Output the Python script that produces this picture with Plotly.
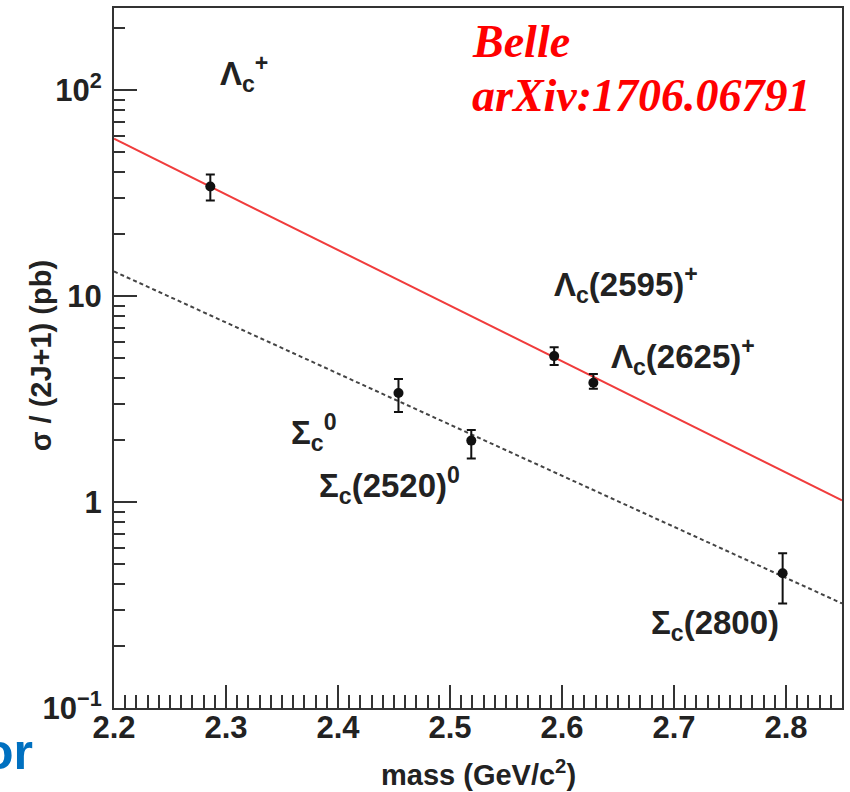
import numpy as np
import plotly.graph_objects as go

# Measured cross sections sigma/(2J+1) in pb, with asymmetric errors
lambda_mass = [2.286, 2.593, 2.628]
lambda_xs = [34.1, 5.12, 3.80]
lambda_err_up = [4.9, 0.54, 0.39]
lambda_err_dn = [4.9, 0.49, 0.25]

sigma_mass = [2.454, 2.519, 2.797]
sigma_xs = [3.39, 1.99, 0.451]
sigma_err_up = [0.57, 0.25, 0.113]
sigma_err_dn = [0.65, 0.36, 0.129]

# Exponential fits (straight lines on the log scale)
fit_mass = [2.2, 2.85]
lambda_fit = [58.2, 1.02]
sigma_fit = [13.2, 0.322]

# Axis ticks
x_ticks = [2.2, 2.3, 2.4, 2.5, 2.6, 2.7, 2.8]
x_ticktext = ["2.2", "2.3", "2.4", "2.5", "2.6", "2.7", "2.8"]
y_ticks = [0.1, 1, 10, 100]
y_ticktext = ["10<sup>−1</sup>", "1", "10", "10<sup>2</sup>"]
y_minor = [m * 10.0 ** e for e in (-1, 0, 1, 2) for m in range(2, 10)]

axis_col = "#333333"
txt_col = "#222222"
font_main = "Liberation Sans, Arial, sans-serif"

fig = go.Figure()

fig.add_trace(go.Scatter(
    x=fit_mass, y=lambda_fit, mode="lines",
    line=dict(color="#f03c3c", width=2), showlegend=False, hoverinfo="skip"))
fig.add_trace(go.Scatter(
    x=fit_mass, y=sigma_fit, mode="lines",
    line=dict(color="#444444", width=2, dash="4px,3px"), showlegend=False, hoverinfo="skip"))

for xs, ys, up, dn in ((lambda_mass, lambda_xs, lambda_err_up, lambda_err_dn),
                       (sigma_mass, sigma_xs, sigma_err_up, sigma_err_dn)):
    fig.add_trace(go.Scatter(
        x=xs, y=ys, mode="markers",
        marker=dict(color="#111111", size=10),
        error_y=dict(type="data", symmetric=False, array=up, arrayminus=dn,
                     color="#111111", thickness=2, width=4.5),
        showlegend=False))

def label(text, x, ylog, size=33, **kw):
    fig.add_annotation(x=x, y=ylog, xref="x", yref="y", text=f"<b>{text}</b>", showarrow=False,
                       xanchor="center", yanchor="middle",
                       font=dict(family=font_main, size=size, color=txt_col), **kw)

label("Λ<sub>c</sub><sup>+</sup>", 2.316, 2.08)
label("Λ<sub>c</sub>(2595)<sup>+</sup>", 2.657, 1.058)
label("Λ<sub>c</sub>(2625)<sup>+</sup>", 2.708, 0.709)
label("Σ<sub>c</sub><sup>0</sup>", 2.379, 0.337)
label("Σ<sub>c</sub>(2520)<sup>0</sup>", 2.446, 0.080)
label("Σ<sub>c</sub>(2800)", 2.737, -0.598)

for text, ylog in (("Belle", 2.235), ("arXiv:1706.06791", 1.975)):
    fig.add_annotation(x=2.518, y=ylog, xref="x", yref="y", text=f"<b><i>{text}</i></b>",
                       showarrow=False, xanchor="left", yanchor="middle",
                       font=dict(family="Liberation Serif, Times New Roman, serif",
                                 size=46, color="#ff0000"))

# Axis titles
fig.add_annotation(x=0.501, y=-0.0926, xref="paper", yref="paper",
                   xanchor="center", yanchor="middle",
                   text="<b>mass (GeV/c<sup>2</sup>)</b>", showarrow=False,
                   font=dict(family=font_main, size=29, color=txt_col))
fig.add_annotation(x=-0.101, y=0.503, xref="paper", yref="paper",
                   xanchor="center", yanchor="middle",
                   text="<b>σ / (2J+1) (pb)</b>", showarrow=False, textangle=-90,
                   font=dict(family=font_main, size=29, color=txt_col))

fig.add_annotation(x=-0.108, y=-0.063, xref="paper", yref="paper", text="<b>or</b>",
                   showarrow=False, xanchor="right", yanchor="middle",
                   font=dict(family=font_main, size=50, color="#0070c0"))

tick_font = dict(family=font_main, size=31, color=txt_col, weight="bold")

fig.update_xaxes(
    range=[2.2, 2.85], tickvals=x_ticks, ticktext=x_ticktext,
    ticks="inside", ticklen=23, tickwidth=2, tickcolor=axis_col,
    minor=dict(dtick=0.01, tick0=2.2, ticks="inside", ticklen=13, tickwidth=2, tickcolor=axis_col),
    showline=True, linecolor=axis_col, linewidth=2, mirror=True,
    showgrid=False, zeroline=False, ticklabelstandoff=-9,
    tickfont=tick_font,
)
fig.update_yaxes(
    type="log", range=[-1, 2.4], tickvals=y_ticks, ticktext=y_ticktext,
    ticks="inside", ticklen=23, tickwidth=2, tickcolor=axis_col,
    minor=dict(tickvals=y_minor, ticks="inside", ticklen=11, tickwidth=2, tickcolor=axis_col),
    showline=True, linecolor=axis_col, linewidth=2, mirror=True,
    showgrid=False, zeroline=False, ticklabelstandoff=4,
    tickfont=tick_font,
)

fig.update_layout(
    width=850, height=792,
    margin=dict(l=114, r=6, t=6, b=84),
    paper_bgcolor="white", plot_bgcolor="white",
    showlegend=False,
)

fig.write_html("out.html")
